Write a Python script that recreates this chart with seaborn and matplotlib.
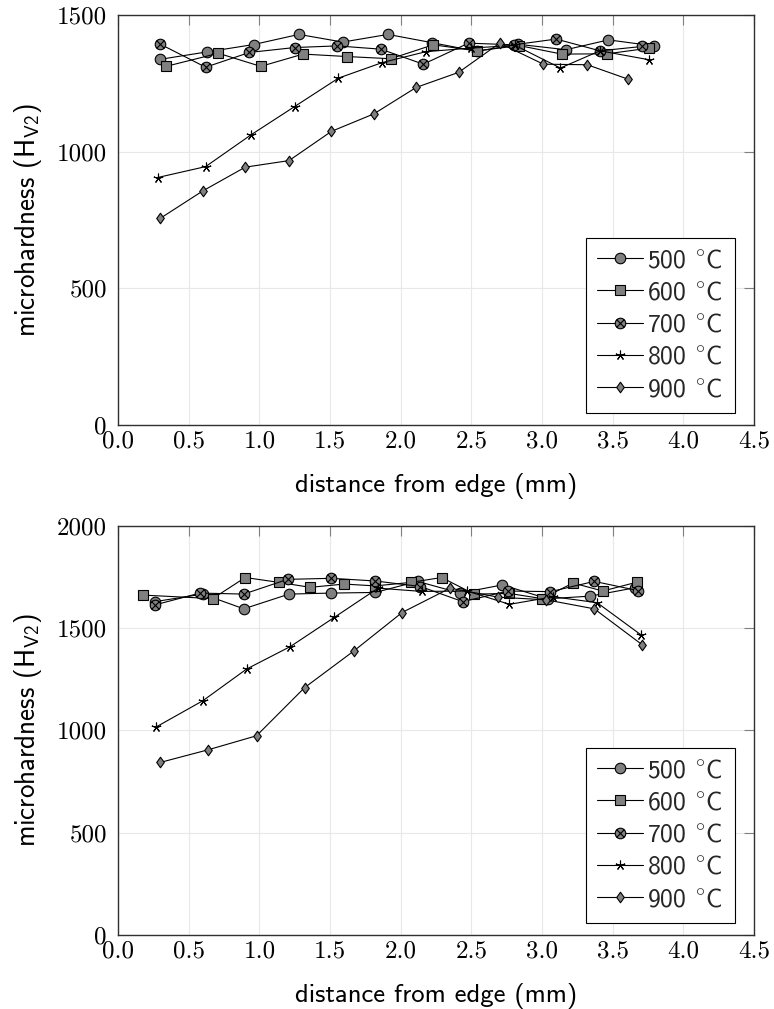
import numpy as np
import pandas as pd
import matplotlib
matplotlib.use("Agg")
import matplotlib.pyplot as plt
import seaborn as sns
from matplotlib.path import Path
from matplotlib.lines import Line2D
from matplotlib.ticker import FormatStrFormatter

# ---------------- data ----------------
labels = ["500 $^{\\circ}$C", "600 $^{\\circ}$C", "700 $^{\\circ}$C", "800 $^{\\circ}$C", "900 $^{\\circ}$C"]

# top panel
t500_x = [0.30, 0.63, 0.96, 1.28, 1.59, 1.91, 2.22, 2.54, 2.83, 3.17, 3.47, 3.79]
t500_y = [1339, 1366, 1393, 1430, 1402, 1430, 1400, 1368, 1394, 1374, 1410, 1388]
t600_x = [0.34, 0.71, 1.01, 1.31, 1.62, 1.93, 2.23, 2.54, 2.84, 3.14, 3.46, 3.76]
t600_y = [1313, 1361, 1313, 1358, 1349, 1341, 1392, 1370, 1389, 1358, 1359, 1380]
t700_x = [0.30, 0.62, 0.93, 1.25, 1.55, 1.86, 2.16, 2.48, 2.80, 3.10, 3.41, 3.71]
t700_y = [1394, 1310, 1364, 1382, 1388, 1376, 1321, 1398, 1392, 1413, 1370, 1386]
t800_x = [0.28, 0.62, 0.94, 1.25, 1.56, 1.87, 2.18, 2.50, 2.81, 3.13, 3.41, 3.76]
t800_y = [906, 946, 1062, 1166, 1270, 1327, 1367, 1380, 1390, 1307, 1370, 1337]
t900_x = [0.30, 0.60, 0.90, 1.21, 1.51, 1.81, 2.11, 2.41, 2.70, 3.01, 3.32, 3.61]
t900_y = [757, 857, 944, 968, 1075, 1139, 1236, 1291, 1398, 1321, 1319, 1266]

# bottom panel
b500_x = [0.26, 0.60, 0.89, 1.21, 1.51, 1.82, 2.12, 2.42, 2.72, 3.04, 3.34, 3.66]
b500_y = [1628, 1665, 1593, 1665, 1670, 1673, 1727, 1670, 1710, 1642, 1655, 1696]
b600_x = [0.18, 0.67, 0.90, 1.14, 1.36, 1.60, 1.82, 2.07, 2.29, 2.52, 2.77, 3.00, 3.22, 3.43, 3.67]
b600_y = [1660, 1643, 1746, 1722, 1698, 1714, 1705, 1722, 1746, 1665, 1668, 1643, 1719, 1680, 1723]
b700_x = [0.26, 0.58, 0.89, 1.20, 1.51, 1.82, 2.14, 2.44, 2.76, 3.06, 3.37, 3.68]
b700_y = [1612, 1670, 1665, 1737, 1742, 1729, 1702, 1628, 1680, 1677, 1727, 1682]
b800_x = [0.27, 0.60, 0.91, 1.22, 1.53, 1.84, 2.15, 2.47, 2.77, 3.08, 3.39, 3.70]
b800_y = [1016, 1144, 1299, 1409, 1551, 1694, 1678, 1680, 1615, 1652, 1623, 1466]
b900_x = [0.30, 0.64, 0.98, 1.32, 1.67, 2.01, 2.35, 2.69, 3.03, 3.37, 3.71]
b900_y = [843, 905, 973, 1208, 1388, 1575, 1694, 1650, 1637, 1593, 1417]

x_ticks = [0.0, 0.5, 1.0, 1.5, 2.0, 2.5, 3.0, 3.5, 4.0, 4.5]
top_yticks = [0, 500, 1000, 1500]
bot_yticks = [0, 500, 1000, 1500, 2000]

# ---------------- style ----------------
sns.set_theme(style="white")
plt.rcParams["font.family"] = ["cmss10", "DejaVu Sans"]
plt.rcParams["mathtext.fontset"] = "custom"
plt.rcParams["mathtext.rm"] = "cmss10"
plt.rcParams["mathtext.it"] = "cmss10"
plt.rcParams["mathtext.bf"] = "cmss10"
plt.rcParams["mathtext.fallback"] = "cm"
plt.rcParams["axes.unicode_minus"] = False
plt.rcParams["axes.formatter.use_mathtext"] = False

d = 0.7071
otimes = Path.make_compound_path(
    Path.unit_circle(),
    Path([(-d, -d), (d, d), (-d, d), (d, -d)],
         [Path.MOVETO, Path.LINETO, Path.MOVETO, Path.LINETO]),
)
diamond = Path([(0, 1), (0.72, 0), (0, -1), (-0.72, 0), (0, 1)],
               [Path.MOVETO, Path.LINETO, Path.LINETO, Path.LINETO, Path.CLOSEPOLY])

markers = ["o", "s", otimes, (5, 2, 0), diamond]
msizes = [7.6, 7.2, 7.6, 7.0, 7.6]
GRAY = "#808080"

fig = plt.figure(figsize=(7.74, 10.09), dpi=100)
ax_top = fig.add_axes([118 / 774, 1 - 425 / 1009, 636 / 774, 409.7 / 1009])
ax_bot = fig.add_axes([118 / 774, 1 - 935 / 1009, 636 / 774, 409.5 / 1009])

panels = [
    (ax_top, [(t500_x, t500_y), (t600_x, t600_y), (t700_x, t700_y), (t800_x, t800_y), (t900_x, t900_y)],
     top_yticks, 1500),
    (ax_bot, [(b500_x, b500_y), (b600_x, b600_y), (b700_x, b700_y), (b800_x, b800_y), (b900_x, b900_y)],
     bot_yticks, 2000),
]

for ax, series, yticks, ymax in panels:
    for (xs, ys), mk, ms in zip(series, markers, msizes):
        sns.lineplot(x=xs, y=ys, ax=ax, color="black", linewidth=0.8,
                     marker=mk, markersize=ms, markerfacecolor=GRAY,
                     markeredgecolor="black", markeredgewidth=0.8,
                     estimator=None, sort=False, legend=False)
    ax.set_xlim(0, 4.5)
    ax.set_ylim(0, ymax)
    ax.set_xticks(x_ticks)
    ax.set_yticks(yticks)
    ax.xaxis.set_major_formatter(FormatStrFormatter("%.1f"))
    ax.grid(True, color="#e8e8e8", linewidth=0.8)
    ax.set_axisbelow(True)
    for sp in ax.spines.values():
        sp.set_color("#303030")
        sp.set_linewidth(1.0)
    ax.tick_params(direction="in", length=7.5, width=0.8, color="#808080",
                   top=True, right=True, labelsize=18, labelfontfamily="cmr10",
                   labelcolor="black")
    ax.tick_params(axis="y", pad=8)
    ax.tick_params(axis="x", pad=4)
    ax.set_xlabel("distance from edge (mm)", fontsize=19.2, color="black", labelpad=14.5)
    ax.set_ylabel("microhardness (H$_{\\mathrm{V2}}$)", fontsize=19.5, color="black", labelpad=9)

    handles = [Line2D([], [], color="black", linewidth=0.8, marker=mk, markersize=ms,
                      markerfacecolor=GRAY, markeredgecolor="black", markeredgewidth=0.8)
               for mk, ms in zip(markers, msizes)]
    leg = ax.legend(handles, labels, loc="lower right", bbox_to_anchor=(0.97, 0.03),
                    borderaxespad=0, fontsize=18.5, frameon=True, fancybox=False,
                    handlelength=1.8, handletextpad=0.15, labelspacing=0.36,
                    borderpad=0.45)
    leg.get_frame().set_edgecolor("black")
    leg.get_frame().set_linewidth(0.8)
    leg.get_frame().set_alpha(1)

fig.savefig("out.png", dpi=100)
